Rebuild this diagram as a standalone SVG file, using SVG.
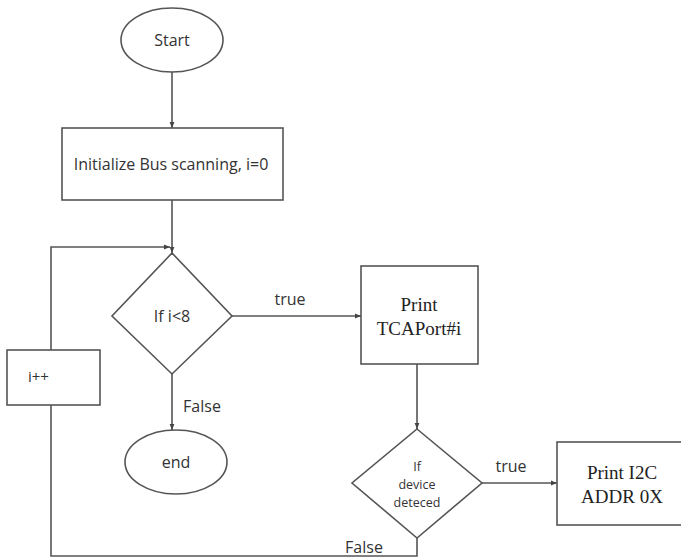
<svg xmlns="http://www.w3.org/2000/svg" width="681" height="559" viewBox="0 0 681 559">
  <style>
    .shape { fill: #ffffff; stroke: #555555; stroke-width: 1.6; }
    .line { fill: none; stroke: #555555; stroke-width: 1.6; }
    .sans { font-family: "Open Sans", "Liberation Sans", sans-serif; fill: #333333; }
    .serif { font-family: "Liberation Serif", serif; fill: #222222; }
  </style>
  <defs>
    <marker id="arrow" viewBox="0 0 10 10" refX="10" refY="5" markerWidth="6" markerHeight="6" orient="auto" markerUnits="userSpaceOnUse">
      <path d="M0,1 L10,5 L0,9 z" fill="#444444"/>
    </marker>
  </defs>
  <rect width="681" height="559" fill="#ffffff"/>

  <g id="connectors">
    <line class="line" x1="172" y1="72" x2="172" y2="128" marker-end="url(#arrow)"/>
    <line class="line" x1="172" y1="200" x2="172" y2="253" marker-end="url(#arrow)"/>
    <polyline class="line" points="51,350 51,247 170,247" marker-end="url(#arrow)"/>
    <line class="line" x1="232" y1="316" x2="361" y2="316" marker-end="url(#arrow)"/>
    <line class="line" x1="172" y1="374" x2="172" y2="430" marker-end="url(#arrow)"/>
    <line class="line" x1="417" y1="364" x2="417" y2="429" marker-end="url(#arrow)"/>
    <line class="line" x1="482" y1="483" x2="557" y2="483" marker-end="url(#arrow)"/>
    <polyline class="line" points="417,538 417,556 51,556 51,405"/>
    <text class="sans" x="290" y="305" font-size="16" text-anchor="middle">true</text>
    <text class="sans" x="202" y="412" font-size="16" text-anchor="middle">False</text>
    <text class="sans" x="511" y="472" font-size="16" text-anchor="middle">true</text>
    <text class="sans" x="364" y="553" font-size="16" text-anchor="middle">False</text>
  </g>

  <g id="start">
    <ellipse class="shape" cx="172" cy="40" rx="51" ry="32"/>
    <text class="sans" x="172" y="46" font-size="16" text-anchor="middle">Start</text>
  </g>

  <g id="init">
    <rect class="shape" x="62" y="128" width="221" height="72"/>
    <text class="sans" x="171" y="170" font-size="16" text-anchor="middle">Initialize Bus scanning, i=0</text>
  </g>

  <g id="check-i">
    <polygon class="shape" points="172,253 232,316 172,374 112,316"/>
    <text class="sans" x="172" y="322" font-size="16" text-anchor="middle">If i&lt;8</text>
  </g>

  <g id="increment">
    <rect class="shape" x="7" y="350" width="93" height="55"/>
    <text class="sans" x="28" y="382" font-size="15">i++</text>
  </g>

  <g id="end">
    <ellipse class="shape" cx="176" cy="462" rx="51" ry="32"/>
    <text class="sans" x="176" y="468" font-size="16" text-anchor="middle">end</text>
  </g>

  <g id="print-port">
    <rect class="shape" x="361" y="266" width="117" height="98"/>
    <text class="serif" x="419" y="311" font-size="19" text-anchor="middle">Print</text>
    <text class="serif" x="419" y="335" font-size="19" text-anchor="middle">TCAPort#i</text>
  </g>

  <g id="check-device">
    <polygon class="shape" points="417,429 482,483 417,538 352,483"/>
    <text class="sans" x="417" y="471" font-size="12.5" text-anchor="middle">If</text>
    <text class="sans" x="417" y="489" font-size="12.5" text-anchor="middle">device</text>
    <text class="sans" x="417" y="507" font-size="12.5" text-anchor="middle">deteced</text>
  </g>

  <g id="print-addr">
    <rect class="shape" x="557" y="442" width="126" height="83"/>
    <text class="serif" x="622" y="479" font-size="19" text-anchor="middle">Print I2C</text>
    <text class="serif" x="622" y="503" font-size="19" text-anchor="middle">ADDR 0X</text>
  </g>
</svg>
